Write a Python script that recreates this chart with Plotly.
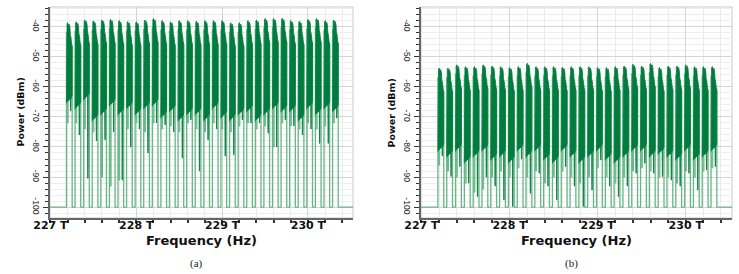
import plotly.graph_objects as go

# ---------------- data ----------------
channels_thz = [227.22, 227.32, 227.42, 227.52, 227.62, 227.72, 227.82, 227.92,
                228.02, 228.12, 228.22, 228.32, 228.42, 228.52, 228.62, 228.72,
                228.82, 228.92, 229.02, 229.12, 229.22, 229.32, 229.42, 229.52,
                229.62, 229.72, 229.82, 229.92, 230.02, 230.12, 230.22, 230.32]
channel_width_thz = 0.066
floor_dbm = -100.0

# panel (a)
peak_a = [-38.7, -38.4, -37.8, -38.1, -37.8, -37.6, -38.0, -38.3, -38.4, -37.8, -37.3, -38.0,
          -38.4, -38.0, -38.0, -38.2, -38.0, -38.0, -38.0, -38.7, -38.7, -38.0, -37.8, -37.3,
          -37.3, -37.2, -38.0, -38.2, -37.6, -37.3, -38.0, -37.8]
low_a = [-64, -66, -63, -70, -68, -65, -68, -66, -68, -66, -65, -69, -67, -70, -68, -68,
         -70, -66, -69, -70, -68, -67, -70, -68, -66, -67, -67, -70, -66, -68, -66, -67]
dip_a = [-68, -76, -90.4, -78, -77.6, -75, -91, -80, -74, -82, -72, -72.7, -75, -83.7, -71, -88,
         -77.6, -74, -83, -82.6, -71, -72, -72, -75.4, -80, -71, -73, -76, -74, -78.8, -78.8, -70.4]
light_a = [-72, -72, -74, -75, -90, -93, -91, -74, -72, -75, -72, -74, -73, -75, -72, -74,
           -75, -72, -74, -75, -73, -72, -74, -73, -80, -72, -73, -74, -72, -74, -73, -72]

# panel (b)
peak_b = [-53.8, -53.8, -52.7, -53.3, -53.3, -52.7, -53.1, -53.3, -53.6, -53.3, -52.2, -53.3,
          -53.3, -53.3, -53.5, -53.3, -53.3, -53.3, -53.6, -53.6, -53.3, -53.1, -52.5, -53.1,
          -52.2, -53.6, -53.1, -53.1, -52.7, -53.3, -53.3, -53.3]
low_b = [-80, -82, -80, -84, -82, -80, -83, -82, -84, -80, -82, -80, -83, -84, -80, -82,
         -84, -82, -80, -83, -84, -82, -80, -80, -82, -81, -82, -83, -80, -83, -82, -80]
dip_b = [-83, -89.8, -86.5, -92, -96.5, -90, -93, -97.6, -99.8, -84, -95.4, -88.7, -93, -97.6, -86.5, -93,
         -99.8, -94.3, -84.3, -93, -96.5, -93, -88.7, -85.4, -88.7, -89.8, -91, -93, -88.7, -94.3, -87.6, -86.5]
light_b = [-86, -88, -90, -92, -95, -94, -90, -88, -90, -87, -90, -88, -92, -90, -88, -90,
           -92, -90, -87, -90, -92, -90, -88, -87, -88, -90, -90, -92, -88, -90, -88, -87]

x_tick_vals = [227, 228, 229, 230]
x_tick_text = ["227 T", "228 T", "229 T", "230 T"]
y_tick_vals = [-100, -90, -80, -70, -60, -50, -40]
y_tick_text = ["-100", "-90", "-80", "-70", "-60", "-50", "-40"]

X_RANGE = [226.995, 230.525]
Y_RANGE = [-103.6, -33.5]

DARK = "rgb(0,124,62)"
LIGHT = "rgb(104,182,134)"

# relative top profile of a channel (fraction of width, dB below peak)
TOP_F = [0.0, 0.10, 0.22, 0.35, 0.48, 0.60, 0.68, 0.80, 0.90, 1.0]
TOP_D = [2.5, 0.4, 0.0, 1.0, 0.5, 1.5, 4.0, 5.0, 7.0, 8.0]


def build(peaks, lows, dips, lights):
    ox, oy = [X_RANGE[0] - 0.2], [floor_dbm]
    dx, dy = [], []
    lx, ly = [], []
    h = channel_width_thz / 2
    for c, p, lo, d, li in zip(channels_thz, peaks, lows, dips, lights):
        left, right = c - h, c + h
        ox += [left, left, right, right]
        oy += [floor_dbm, p - 3, p - 8, floor_dbm]
        px = [left]
        py = [lo - 1.5]
        for f, dd in zip(TOP_F, TOP_D):
            px.append(left + f * channel_width_thz)
            py.append(p - dd)
        px += [right, c + 0.62 * h, c + 0.55 * h, c + 0.45 * h, c + 0.38 * h, left + 0.1 * channel_width_thz]
        py += [lo + 1, lo, d, d, lo, lo - 1.0]
        dx += px + [None]
        dy += py + [None]
        lx += [left + 0.12 * channel_width_thz, left + 0.12 * channel_width_thz,
               left + 0.3 * channel_width_thz, left + 0.3 * channel_width_thz, None]
        ly += [lo, li, li, lo, None]
    ox.append(X_RANGE[1] + 0.2)
    oy.append(floor_dbm)
    return (ox, oy), (dx, dy), (lx, ly)


fig = go.Figure()
for idx, data in enumerate([(peak_a, low_a, dip_a, light_a), (peak_b, low_b, dip_b, light_b)]):
    (ox, oy), (dx, dy), (lx, ly) = build(*data)
    xa = "x" if idx == 0 else "x2"
    ya = "y" if idx == 0 else "y2"
    fig.add_trace(go.Scatter(x=lx, y=ly, mode="lines", fill="toself",
                             fillcolor="rgba(104,182,134,0.55)", line=dict(color=LIGHT, width=1),
                             xaxis=xa, yaxis=ya, showlegend=False, hoverinfo="skip"))
    fig.add_trace(go.Scatter(x=ox, y=oy, mode="lines", line=dict(color=LIGHT, width=1.3),
                             xaxis=xa, yaxis=ya, showlegend=False, hoverinfo="skip"))
    fig.add_trace(go.Scatter(x=dx, y=dy, mode="lines", fill="toself", fillcolor=DARK,
                             line=dict(color=DARK, width=0.8),
                             xaxis=xa, yaxis=ya, showlegend=False, hoverinfo="skip"))

Y_DOM = [1 - 218 / 274, 1 - 7 / 274]
X_DOMS = [[50 / 739, 353 / 739], [421 / 739, 732 / 739]]

xaxis_common = dict(
    range=X_RANGE, tickvals=x_tick_vals, ticktext=["<b>%s</b>" % t for t in x_tick_text],
    tickfont=dict(family="DejaVu Sans", size=11, color="#111"),
    showgrid=True, gridcolor="#d4d4d4", gridwidth=1,
    ticks="outside", ticklen=3, tickcolor="#333", tickwidth=1.5, ticklabelstandoff=-7,
    showline=True, linecolor="#666", linewidth=2, zeroline=False, automargin=False,
    minor=dict(dtick=0.2, tick0=227, showgrid=True, gridcolor="#ebebeb", ticks="outside",
               ticklen=3, tickcolor="#333"),
    fixedrange=True,
)
yaxis_common = dict(
    range=Y_RANGE, tickvals=y_tick_vals, ticktext=y_tick_text, tickangle=90,
    tickfont=dict(family="Liberation Sans", size=8.5, color="#222"),
    showgrid=True, gridcolor="#d4d4d4", gridwidth=1,
    ticks="outside", ticklen=5, tickcolor="#333", tickwidth=1.2,
    showline=True, linecolor="#666", linewidth=2, zeroline=False, automargin=False,
    minor=dict(dtick=2, tick0=-100, showgrid=True, gridcolor="#eeeeee", ticks="outside",
               ticklen=3, tickcolor="#333"),
    fixedrange=True,
)

fig.update_layout(
    width=739, height=274,
    margin=dict(l=0, r=0, t=0, b=0, autoexpand=False),
    paper_bgcolor="white", plot_bgcolor="white",
    xaxis=dict(domain=X_DOMS[0], anchor="y", **xaxis_common),
    yaxis=dict(domain=Y_DOM, anchor="x", **yaxis_common),
    xaxis2=dict(domain=X_DOMS[1], anchor="y2", **xaxis_common),
    yaxis2=dict(domain=Y_DOM, anchor="x2", **yaxis_common),
)

shapes = []
annotations = []
for i, (xr, yr, cap) in enumerate([("x", "y", "(a)"), ("x2", "y2", "(b)")]):
    shapes.append(dict(type="rect", xref=xr + " domain", yref=yr + " domain", x0=0, x1=1, y0=0, y1=1,
                       line=dict(color="#c8c8c8", width=1), layer="below"))
    cx = (X_DOMS[i][0] + X_DOMS[i][1]) / 2
    annotations.append(dict(text="<b>Frequency (Hz)</b>", xref="paper", yref="paper", x=cx, y=1 - 240 / 274,
                            showarrow=False, font=dict(family="DejaVu Sans", size=13, color="#111"),
                            xanchor="center", yanchor="middle"))
    annotations.append(dict(text="<b>Power (dBm)</b>", xref="paper", yref="paper",
                            x=(X_DOMS[i][0] * 739 - 30) / 739, y=(Y_DOM[0] + Y_DOM[1]) / 2,
                            showarrow=False, textangle=-90,
                            font=dict(family="DejaVu Sans", size=9.5, color="#111"),
                            xanchor="center", yanchor="middle"))
    annotations.append(dict(text=cap, xref="paper", yref="paper", x=(cx * 739 - 5) / 739, y=1 - 263 / 274,
                            showarrow=False, font=dict(family="Liberation Serif", size=11, color="#222"),
                            xanchor="center", yanchor="middle"))
fig.update_layout(shapes=shapes, annotations=annotations)

fig.write_html("out.html", config={"displayModeBar": False},
               post_script="document.body.style.margin='0';")
